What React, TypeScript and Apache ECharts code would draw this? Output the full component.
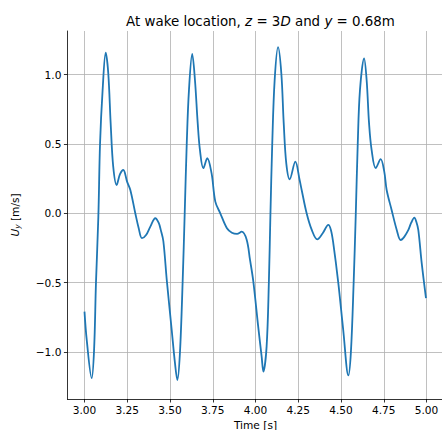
import React, { useEffect, useRef } from 'react';
import * as echarts from 'echarts';

const times = [
  3.0, 3.013, 3.042, 3.056, 3.067, 3.081, 3.091, 3.106, 3.124, 3.139, 3.153, 3.168, 3.188, 3.207, 3.227, 3.249,
  3.268, 3.297, 3.317, 3.336, 3.36, 3.385, 3.414, 3.434, 3.446, 3.461, 3.481, 3.51, 3.529, 3.543, 3.558, 3.574,
  3.586, 3.598, 3.611, 3.63, 3.646, 3.662, 3.675, 3.695, 3.718, 3.743, 3.765, 3.794, 3.833, 3.862, 3.892, 3.919,
  3.948, 3.968, 3.987, 4.016, 4.036, 4.046, 4.065, 4.078, 4.087, 4.098, 4.112, 4.132, 4.151, 4.165, 4.18, 4.2,
  4.233, 4.258, 4.27, 4.299, 4.329, 4.361, 4.393, 4.426, 4.441, 4.455, 4.484, 4.513, 4.543, 4.558, 4.574, 4.586,
  4.598, 4.611, 4.635, 4.65, 4.664, 4.679, 4.703, 4.732, 4.753, 4.767, 4.796, 4.826, 4.849, 4.87, 4.894, 4.91,
  4.929, 4.94, 4.952, 4.972, 4.997,
];
const uy = [
  -0.71, -0.914, -1.19, -0.986, -0.505, -0.024, 0.505, 0.89, 1.159, 1.01, 0.65, 0.336, 0.204, 0.28, 0.312, 0.228,
  0.168, 0.0, -0.108, -0.18, -0.157, -0.096, -0.036, -0.07, -0.12, -0.2, -0.48, -0.842, -1.08, -1.203, -1.01, -0.493,
  0.0, 0.505, 0.89, 1.149, 0.96, 0.65, 0.457, 0.325, 0.397, 0.289, 0.084, 0.0, -0.108, -0.14, -0.149, -0.133,
  -0.19, -0.337, -0.49, -0.82, -1.035, -1.143, -0.96, -0.505, -0.024, 0.505, 0.96, 1.198, 1.01, 0.65, 0.36, 0.245,
  0.372, 0.24, 0.168, 0.0, -0.12, -0.188, -0.144, -0.084, -0.12, -0.217, -0.5, -0.842, -1.17, -1.0, -0.5, -0.024,
  0.505, 0.89, 1.118, 0.96, 0.65, 0.457, 0.325, 0.39, 0.3, 0.168, 0.024, -0.12, -0.193, -0.17, -0.12, -0.07,
  -0.031, -0.06, -0.12, -0.36, -0.613,
];
const xTicks = [3.0, 3.25, 3.5, 3.75, 4.0, 4.25, 4.5, 4.75, 5.0];
const yTicks = [-1.0, -0.5, 0.0, 0.5, 1.0];

const FONT = 'DejaVu Sans';
const minus = (s: string) => s.replace('-', '\u2212');

export default function App() {
  const ref = useRef<HTMLDivElement>(null);
  useEffect(() => {
    const chart = echarts.init(ref.current!, null, { renderer: 'svg' });
    const data = times.map((t, i) => [t, uy[i]]);
    chart.setOption({
      animation: false,
      title: {
        text: 'At wake location, {i|z} = 3{i|D} and {i|y} = 0.68m',
        left: 255.5,
        top: 10,
        textAlign: 'center',
        textStyle: {
          fontFamily: FONT,
          fontSize: 13.4,
          fontWeight: 'normal',
          color: '#000',
          rich: {
            i: { fontFamily: FONT, fontSize: 13.4, fontStyle: 'italic', color: '#000' },
          },
        },
      },
      grid: {
        left: 67.4,
        top: 31,
        width: 376.2,
        height: 368,
        containLabel: false,
        outerBoundsMode: 'none',
      },
      xAxis: {
        type: 'value',
        min: 2.9,
        max: 5.1,
        name: 'Time [s]',
        nameLocation: 'middle',
        nameGap: 20,
        nameTextStyle: { fontFamily: FONT, fontSize: 10.6, color: '#000' },
        axisLine: { show: true, onZero: false, lineStyle: { color: '#000', width: 0.8 } },
        axisTick: { show: true, length: 3.5, inside: false, customValues: xTicks, lineStyle: { color: '#000', width: 0.8 } },
        axisLabel: {
          customValues: xTicks,
          margin: 5,
          fontFamily: FONT,
          fontSize: 10.6,
          color: '#000',
          formatter: (v: number) => v.toFixed(2),
        },
        splitLine: { show: true, lineStyle: { color: '#b0b0b0', width: 0.8 } },
      },
      yAxis: {
        type: 'value',
        min: -1.34,
        max: 1.315,
        name: '{i|U}{s|y} [m/s]',
        nameLocation: 'middle',
        nameRotate: 90,
        nameGap: 46,
        nameTextStyle: {
          fontFamily: FONT,
          fontSize: 10.6,
          color: '#000',
          rich: {
            i: { fontFamily: FONT, fontSize: 10.6, fontStyle: 'italic', color: '#000' },
            s: { fontFamily: FONT, fontSize: 7.5, fontStyle: 'italic', color: '#000', padding: [5, 0, 0, 0] },
          },
        },
        axisLine: { show: true, onZero: false, lineStyle: { color: '#000', width: 0.8 } },
        axisTick: { show: true, length: 3.5, inside: false, customValues: yTicks, lineStyle: { color: '#000', width: 0.8 } },
        axisLabel: {
          customValues: yTicks,
          margin: 6,
          fontFamily: FONT,
          fontSize: 10.6,
          color: '#000',
          formatter: (v: number) => minus(v.toFixed(1)),
        },
        splitLine: { show: true, lineStyle: { color: '#b0b0b0', width: 0.8 } },
      },
      series: [
        {
          type: 'line',
          data,
          smooth: 0.35,
          showSymbol: false,
          symbol: 'none',
          lineStyle: { color: '#1f77b4', width: 1.8 },
        },
      ],
    });
    return () => chart.dispose();
  }, []);
  return <div ref={ref} style={{ position: 'absolute', left: 0, top: 0, width: 442, height: 430 }} />;
}
